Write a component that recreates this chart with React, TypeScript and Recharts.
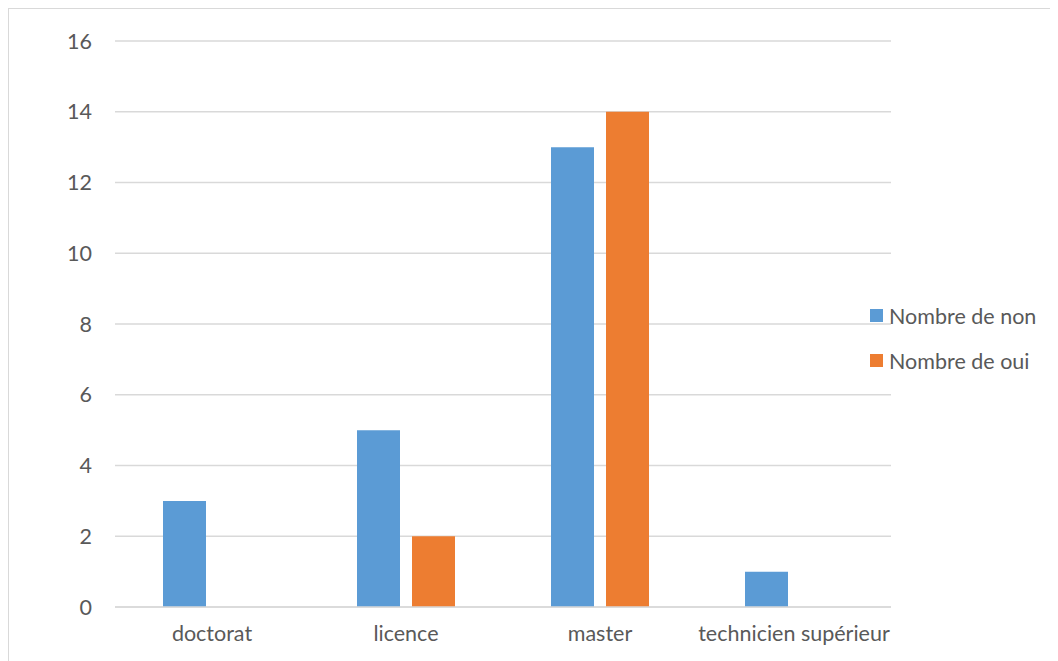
import React from 'react';
import { BarChart, Bar, XAxis, YAxis, CartesianGrid, Legend } from 'recharts';

const categories = ['doctorat', 'licence', 'master', 'technicien supérieur'];
const nombreDeNon = [3, 5, 13, 1];
const nombreDeOui = [0, 2, 14, 0];
const yTicks = [0, 2, 4, 6, 8, 10, 12, 14, 16];

const data = categories.map((name, i) => ({
  name,
  non: nombreDeNon[i],
  oui: nombreDeOui[i],
}));

const FONT = 'Lato, "Open Sans", sans-serif';
const TEXT = '#595959';
const FS = 21.5;

const renderLegend = (props: any) => {
  const { payload = [] } = props;
  return (
    <div style={{ fontFamily: FONT, fontSize: FS, color: TEXT }}>
      {payload.map((entry: any) => (
        <div key={entry.value} style={{ display: 'flex', alignItems: 'center', height: 45 }}>
          <span style={{ width: 13, height: 13, background: entry.color, marginRight: 6, display: 'inline-block' }} />
          <span>{entry.value}</span>
        </div>
      ))}
    </div>
  );
};

export default function App() {
  return (
    <div
      style={{
        width: 1050,
        height: 653,
        boxSizing: 'border-box',
        borderTop: '1px solid #d9d9d9',
        borderLeft: '1px solid #d9d9d9',
        background: '#fff',
        overflow: 'hidden',
      }}
    >
      <BarChart
        width={1049}
        height={652}
        data={data}
        margin={{ top: 32, right: 167, bottom: 0, left: 0 }}
        barSize={43}
        barGap={12}
      >
        <CartesianGrid vertical={false} stroke="#d9d9d9" strokeWidth={1.3} />
        <XAxis
          dataKey="name"
          height={54}
          tickLine={false}
          axisLine={{ stroke: '#d9d9d9', strokeWidth: 1.3 }}
          tickSize={0}
          tickMargin={19}
          tick={{ fill: TEXT, fontSize: FS, fontFamily: FONT }}
          interval={0}
        />
        <YAxis
          width={106}
          domain={[0, 16]}
          ticks={yTicks}
          axisLine={false}
          tickLine={false}
          tickSize={0}
          tickMargin={23}
          tick={{ fill: TEXT, fontSize: FS, fontFamily: FONT }}
        />
        <Legend
          layout="vertical"
          align="center"
          verticalAlign="middle"
          content={renderLegend}
          wrapperStyle={{ left: 861, top: 284, width: 'auto' }}
        />
        <Bar dataKey="non" name="Nombre de non" fill="#5B9BD5" isAnimationActive={false} />
        <Bar dataKey="oui" name="Nombre de oui" fill="#ED7D31" isAnimationActive={false} />
      </BarChart>
    </div>
  );
}
